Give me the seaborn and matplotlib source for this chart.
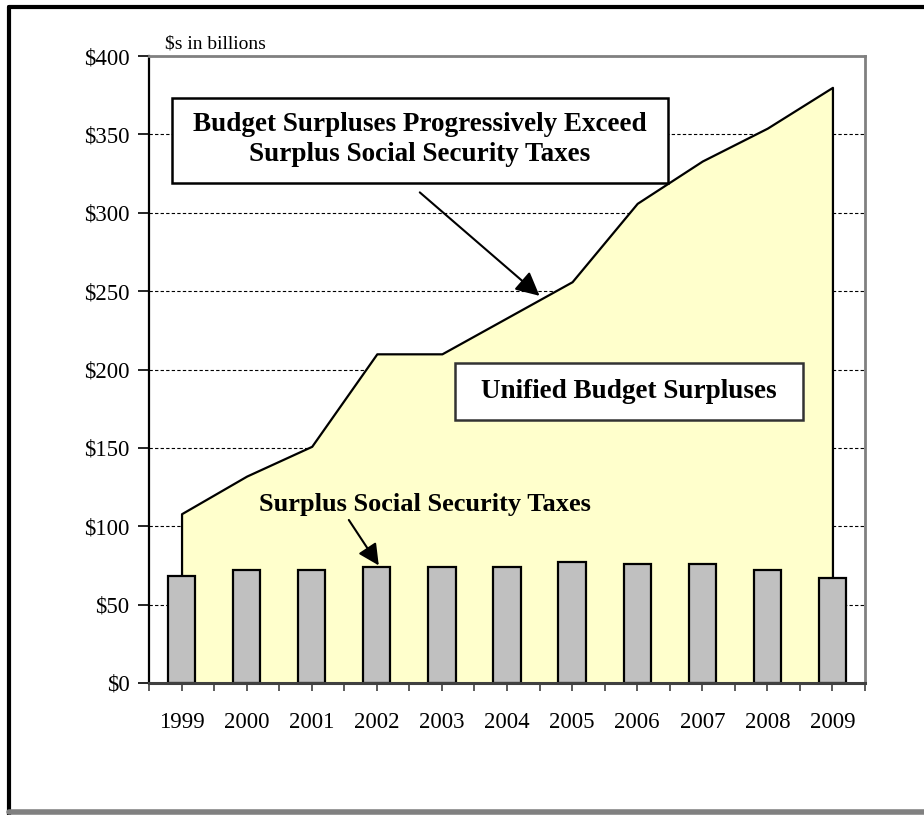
import numpy as np
import pandas as pd
import matplotlib
matplotlib.use("Agg")
import matplotlib.pyplot as plt
from matplotlib.patches import Rectangle
from matplotlib.lines import Line2D
from matplotlib.ticker import FixedLocator
import seaborn as sns

# ---- data ----
years = ["1999", "2000", "2001", "2002", "2003", "2004", "2005", "2006", "2007", "2008", "2009"]
unified_surplus = [108, 132, 151, 210, 210, 233, 256, 306, 333, 354, 380]
ss_surplus = [68, 72, 72, 74, 74, 74, 77, 76, 76, 72, 67]
y_ticks = [0, 50, 100, 150, 200, 250, 300, 350, 400]
y_tick_labels = ["$0", "$50", "$100", "$150", "$200", "$250", "$300", "$350", "$400"]

df = pd.DataFrame({"year": years, "unified": unified_surplus, "ss": ss_surplus})

sns.set_style("white")
plt.rcParams["font.family"] = ["Liberation Serif", "DejaVu Serif"]
plt.rcParams["text.color"] = "black"
plt.rcParams["xtick.color"] = "black"
plt.rcParams["ytick.color"] = "black"

W, H = 924, 815
fig = plt.figure(figsize=(W / 100, H / 100), dpi=100)
ax = fig.add_axes([149 / W, 1 - 683 / H, (865 - 149) / W, (683 - 56) / H])

# grid behind everything
ax.set_axisbelow(True)
ax.yaxis.grid(True, color="black", linestyle=(0, (3, 2)), linewidth=0.8)
ax.xaxis.grid(False)

# unified budget surplus area
xpos = np.arange(len(years))
ax.fill_between(xpos, 0, df["unified"], facecolor="#FFFFCC", edgecolor="black",
                linewidth=1.6, zorder=1)

# social security surplus bars
sns.barplot(data=df, x="year", y="ss", color="#C0C0C0", saturation=1,
            edgecolor="black", linewidth=1.6, width=0.42, ax=ax, zorder=2)

ax.set_xlim(-0.5, len(years) - 0.5)
ax.set_ylim(0, 400)
ax.set_xlabel("")
ax.set_ylabel("")

ax.set_yticks(y_ticks)
ax.set_yticklabels(y_tick_labels, fontsize=16.5, color="black")
ax.set_xticks(xpos)
ax.set_xticklabels(years, fontsize=16.5, color="black")
ax.xaxis.set_minor_locator(FixedLocator(np.arange(-0.5, len(years), 1.0)))
ax.tick_params(axis="y", which="major", direction="out", length=8, width=1.2,
               color="black", pad=6, left=True)
ax.tick_params(axis="x", which="major", direction="out", length=6, width=1.2,
               color="#404040", pad=15, bottom=True)
ax.tick_params(axis="x", which="minor", direction="out", length=6, width=1.2,
               color="#404040", bottom=True)

for side in ["top", "right"]:
    ax.spines[side].set_color("#808080")
    ax.spines[side].set_linewidth(2.0)
ax.spines["left"].set_color("black")
ax.spines["left"].set_linewidth(1.6)
ax.spines["bottom"].set_color("#404040")
ax.spines["bottom"].set_linewidth(2.2)
for s in ax.spines.values():
    s.set_zorder(6)

# units label
ax.text(0.022, 1.006, "$s in billions", transform=ax.transAxes, fontsize=14,
        ha="left", va="bottom", color="black")

# annotation box 1
ax.add_patch(Rectangle((-0.147, 319), 7.62, 54, facecolor="white", edgecolor="black",
                       linewidth=1.8, zorder=5))
ax.text(3.66, 346.5, "Budget Surpluses Progressively Exceed\nSurplus Social Security Taxes",
        ha="center", va="center", fontsize=19.5, fontweight="bold", linespacing=1.25,
        color="black", zorder=6)
ax.annotate("", xy=(5.5, 247), xytext=(3.66, 313),
            arrowprops=dict(arrowstyle="-|>", mutation_scale=36, color="black", lw=1.5,
                            shrinkA=0, shrinkB=0), zorder=6)

# annotation box 2
ax.add_patch(Rectangle((4.20, 168), 5.35, 36, facecolor="white", edgecolor="#333333",
                       linewidth=1.8, zorder=5))
ax.text(6.875, 186, "Unified Budget Surpluses", ha="center", va="center",
        fontsize=19.5, fontweight="bold", color="black", zorder=6)

# social security label + arrow
ax.text(3.74, 114, "Surplus Social Security Taxes", ha="center", va="center",
        fontsize=19, fontweight="bold", color="black", zorder=6)
ax.annotate("", xy=(3.03, 75), xytext=(2.57, 104),
            arrowprops=dict(arrowstyle="-|>", mutation_scale=32, color="black", lw=1.5,
                            shrinkA=0, shrinkB=0), zorder=6)

# outer frame pieces
fig.add_artist(Line2D([9 / W, 1], [1 - 7 / H, 1 - 7 / H], color="black", linewidth=3.0,
                      transform=fig.transFigure))
fig.add_artist(Line2D([9 / W, 9 / W], [0, 1 - 7 / H], color="black", linewidth=3.0,
                      transform=fig.transFigure))
fig.add_artist(Line2D([9 / W, 1], [3 / H, 3 / H], color="#808080", linewidth=4.0,
                      transform=fig.transFigure))

fig.savefig("out.png", dpi=100)
